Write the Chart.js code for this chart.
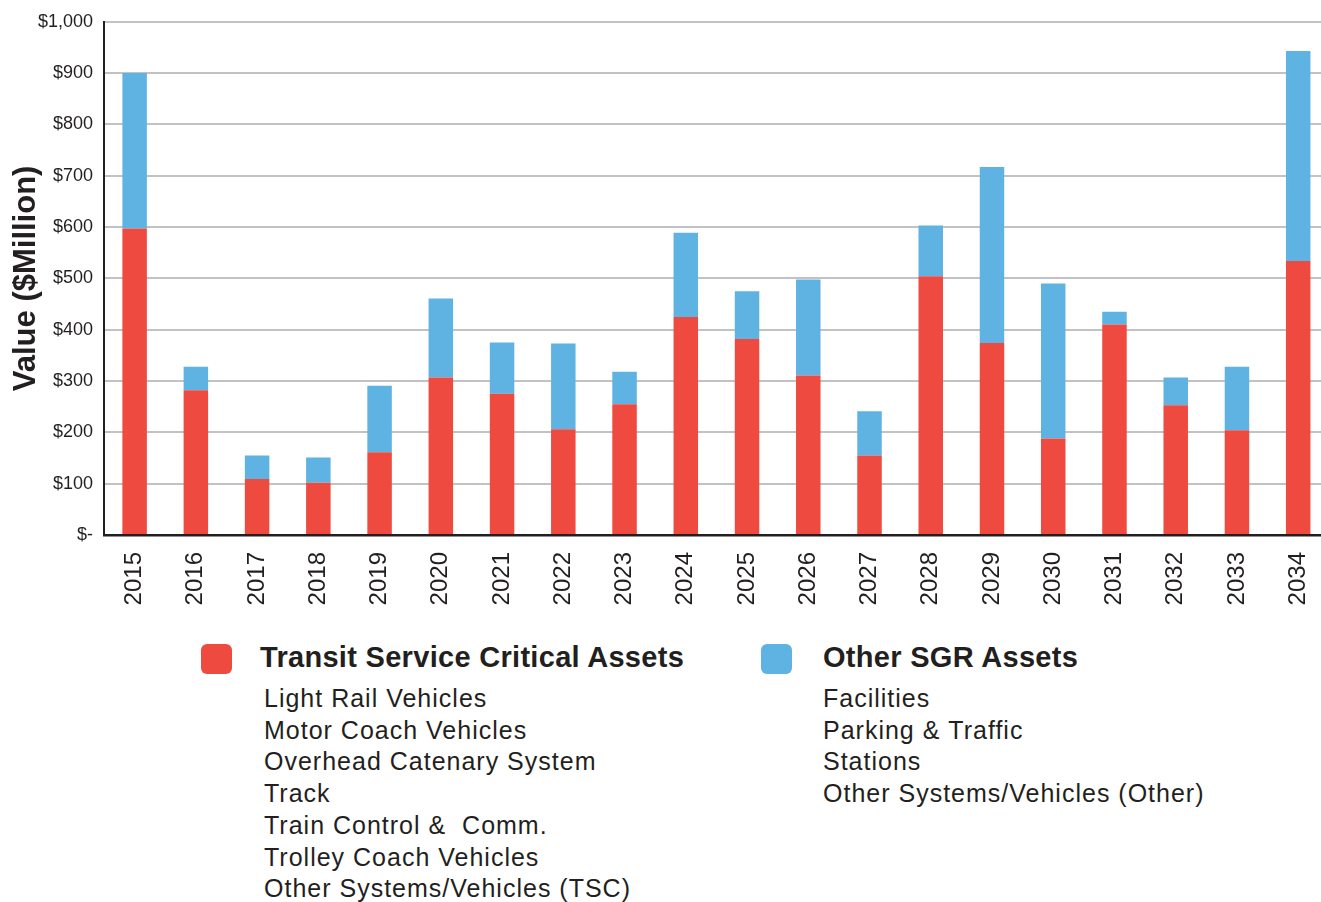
<!DOCTYPE html>
<html>
<head>
<meta charset="utf-8">
<script src="https://cdn.jsdelivr.net/npm/chart.js@4.4.1/dist/chart.umd.min.js"></script>
<style>
  body { margin: 0; background: #fff; font-family: "Liberation Sans", Arial, sans-serif; color: #231f20; }
  #wrap { position: relative; width: 1321px; height: 902px; overflow: hidden; }
  #chartBox { position: absolute; left: 0; top: 0; width: 1336px; height: 625px; }
  .swatch { position: absolute; width: 31px; height: 30px; border-radius: 6px; }
  .legTitle { position: absolute; font-weight: bold; font-size: 29px; line-height: 29px; letter-spacing: 0.3px; white-space: nowrap; }
  .legItems { position: absolute; font-size: 25px; line-height: 31.7px; letter-spacing: 1px; white-space: nowrap; }
</style>
</head>
<body>
<div id="wrap">
  <div id="chartBox"><canvas id="chart"></canvas></div>
  <div class="swatch" style="left:201px;top:644px;background:#ef4a3f"></div>
  <div class="legTitle" style="left:260px;top:643px">Transit Service Critical Assets</div>
  <div class="legItems" id="tscList" style="left:264px;top:683px"></div>
  <div class="swatch" style="left:761px;top:644px;background:#5fb3e3"></div>
  <div class="legTitle" style="left:823px;top:643px">Other SGR Assets</div>
  <div class="legItems" id="otherList" style="left:823px;top:683px"></div>
</div>
<script>
// данные ($ млн)
const years = ['2015', '2016', '2017', '2018', '2019', '2020', '2021', '2022', '2023', '2024',
               '2025', '2026', '2027', '2028', '2029', '2030', '2031', '2032', '2033', '2034'];
const transitCritical = [597, 282, 109, 102, 161, 307, 275, 206, 255, 425,
                         382, 311, 155, 504, 374, 188, 410, 253, 204, 534];
const otherSGR = [303, 46, 46, 49, 130, 154, 100, 167, 63, 164,
                  93, 187, 86, 99, 343, 302, 25, 54, 124, 409];
const tscItems = ['Light Rail Vehicles', 'Motor Coach Vehicles', 'Overhead Catenary System', 'Track',
                  'Train Control &\u00a0 Comm.', 'Trolley Coach Vehicles', 'Other Systems/Vehicles (TSC)'];
const otherItems = ['Facilities', 'Parking &\u00a0Traffic', 'Stations', 'Other Systems/Vehicles (Other)'];

const red = '#ef4a3f';
const blue = '#5fb3e3';
const ink = '#231f20';

document.getElementById('tscList').innerHTML = tscItems.map(t => '<div>' + t.replace('&', '&amp;') + '</div>').join('');
document.getElementById('otherList').innerHTML = otherItems.map(t => '<div>' + t.replace('&', '&amp;') + '</div>').join('');

function money(v) {
    if (v === 0) return '$-';
    return '$' + String(v).replace(/\B(?=(\d{3})+(?!\d))/g, ',');
}

const ctx = document.getElementById('chart').getContext('2d');
new Chart(ctx, {
    type: 'bar',
    data: {
        labels: years,
        datasets: [
            { label: 'Transit Service Critical Assets', data: transitCritical, backgroundColor: red },
            { label: 'Other SGR Assets', data: otherSGR, backgroundColor: blue }
        ]
    },
    options: {
        responsive: true,
        maintainAspectRatio: false,
        animation: false,
        layout: { padding: { top: 20, right: 0, left: 0, bottom: 0 } },
        datasets: { bar: { categoryPercentage: 1, barPercentage: 0.4 } },
        plugins: {
            legend: { display: false },
            tooltip: { enabled: false }
        },
        scales: {
            x: {
                stacked: true,
                grid: { display: false },
                border: { display: true, color: ink, width: 2.5 },
                ticks: {
                    color: ink,
                    font: { family: 'Liberation Sans', size: 24 },
                    minRotation: 90,
                    maxRotation: 90,
                    padding: 9
                },
                afterFit: function (scale) { scale.height = 90; }
            },
            y: {
                stacked: true,
                min: 0,
                max: 1000,
                grid: { color: '#c2c2c6', lineWidth: 2, drawTicks: false },
                border: { display: true, color: ink, width: 2 },
                ticks: {
                    stepSize: 100,
                    color: ink,
                    padding: 11,
                    font: { family: 'Liberation Sans', size: 18 },
                    callback: function (value) { return money(value); }
                },
                title: {
                    display: true,
                    text: 'Value ($Million)',
                    color: ink,
                    font: { family: 'Liberation Sans', size: 31, weight: 'bold' },
                    padding: { top: 8, bottom: 0 }
                },
                afterFit: function (scale) { scale.width = 104; }
            }
        }
    }
});
</script>
</body>
</html>
